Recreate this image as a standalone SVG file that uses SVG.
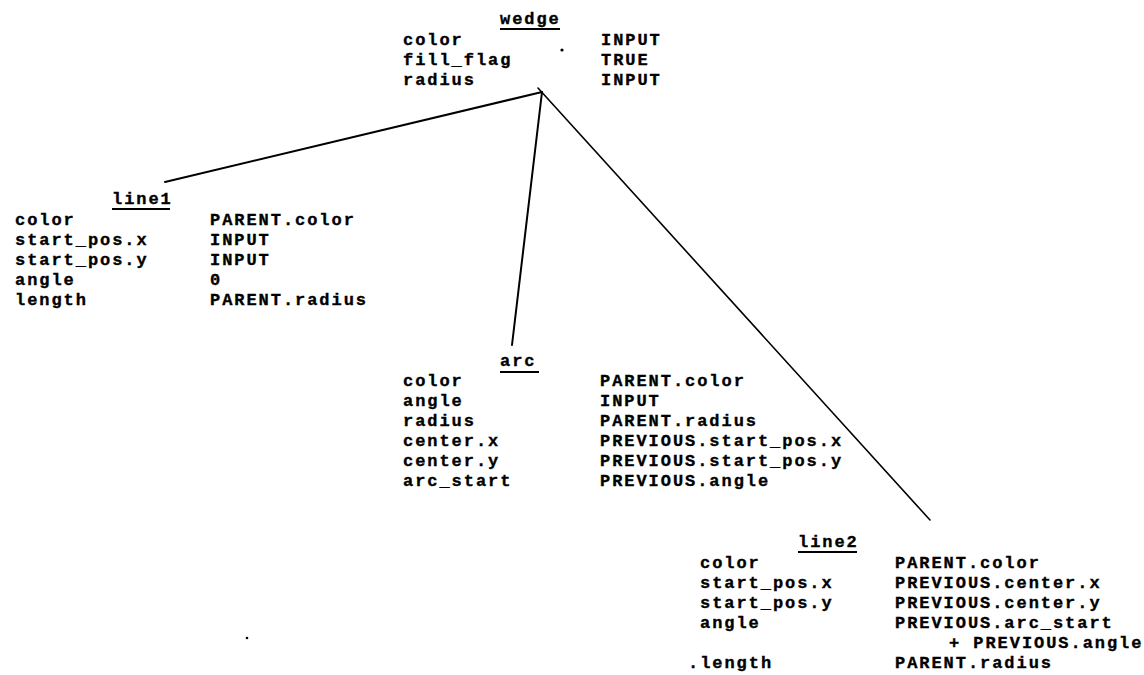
<svg xmlns="http://www.w3.org/2000/svg" width="1144" height="675" viewBox="0 0 1144 675">
  <style>
    text { font-family: "Liberation Mono", "DejaVu Sans Mono", monospace; font-size: 17px; letter-spacing: 1.95px; font-weight: bold; fill: #000; stroke: #000; stroke-width: 0.35px; }
    .title-rule { stroke: #000; stroke-width: 2; }
    .edge { stroke: #000; stroke-width: 2; fill: none; stroke-linecap: round; }
    .speck { fill: #000; }
  </style>
  <rect width="1144" height="675" fill="#fff"/>

  <!-- tree edges from the wedge object down to its parts -->
  <g id="connectors">
    <line class="edge" x1="542" y1="92" x2="165" y2="182"/>
    <line class="edge" x1="542" y1="92" x2="512" y2="345"/>
    <line class="edge" x1="538" y1="88" x2="930" y2="520" style="stroke-width:1.6"/>
  </g>

  <!-- each object: underlined name, attribute column, value column -->
  <g id="wedge">
    <text x="500" y="24">wedge</text>
    <line class="title-rule" x1="500" y1="29" x2="560" y2="29"/>
    <text x="403" y="45"><tspan x="403">color</tspan><tspan x="403" dy="20">fill_flag</tspan><tspan x="403" dy="20">radius</tspan></text>
    <text x="601" y="45"><tspan x="601">INPUT</tspan><tspan x="601" dy="20">TRUE</tspan><tspan x="601" dy="20">INPUT</tspan></text>
    <circle class="speck" cx="562" cy="50" r="1.6"/>
  </g>

  <g id="line1">
    <text x="112" y="204">line1</text>
    <line class="title-rule" x1="112" y1="209" x2="170" y2="209"/>
    <text x="15" y="225"><tspan x="15">color</tspan><tspan x="15" dy="20">start_pos.x</tspan><tspan x="15" dy="20">start_pos.y</tspan><tspan x="15" dy="20">angle</tspan><tspan x="15" dy="20">length</tspan></text>
    <text x="210" y="225"><tspan x="210">PARENT.color</tspan><tspan x="210" dy="20">INPUT</tspan><tspan x="210" dy="20">INPUT</tspan><tspan x="210" dy="20">0</tspan><tspan x="210" dy="20">PARENT.radius</tspan></text>
  </g>

  <g id="arc">
    <text x="500" y="366">arc</text>
    <line class="title-rule" x1="500" y1="372" x2="539" y2="372"/>
    <text x="403" y="386"><tspan x="403">color</tspan><tspan x="403" dy="20">angle</tspan><tspan x="403" dy="20">radius</tspan><tspan x="403" dy="20">center.x</tspan><tspan x="403" dy="20">center.y</tspan><tspan x="403" dy="20">arc_start</tspan></text>
    <text x="600" y="386"><tspan x="600">PARENT.color</tspan><tspan x="600" dy="20">INPUT</tspan><tspan x="600" dy="20">PARENT.radius</tspan><tspan x="600" dy="20">PREVIOUS.start_pos.x</tspan><tspan x="600" dy="20">PREVIOUS.start_pos.y</tspan><tspan x="600" dy="20">PREVIOUS.angle</tspan></text>
  </g>

  <g id="line2">
    <text x="798" y="547">line2</text>
    <line class="title-rule" x1="798" y1="552" x2="857" y2="552"/>
    <text x="700" y="568"><tspan x="700">color</tspan><tspan x="700" dy="20">start_pos.x</tspan><tspan x="700" dy="20">start_pos.y</tspan><tspan x="700" dy="20">angle</tspan><tspan x="688" dy="40">.length</tspan></text>
    <text x="895" y="568"><tspan x="895">PARENT.color</tspan><tspan x="895" dy="20">PREVIOUS.center.x</tspan><tspan x="895" dy="20">PREVIOUS.center.y</tspan><tspan x="895" dy="20">PREVIOUS.arc_start</tspan><tspan x="949" dy="20">+ PREVIOUS.angle</tspan><tspan x="895" dy="20">PARENT.radius</tspan></text>
  </g>

  <circle class="speck" cx="247" cy="638" r="1.3"/>
</svg>
